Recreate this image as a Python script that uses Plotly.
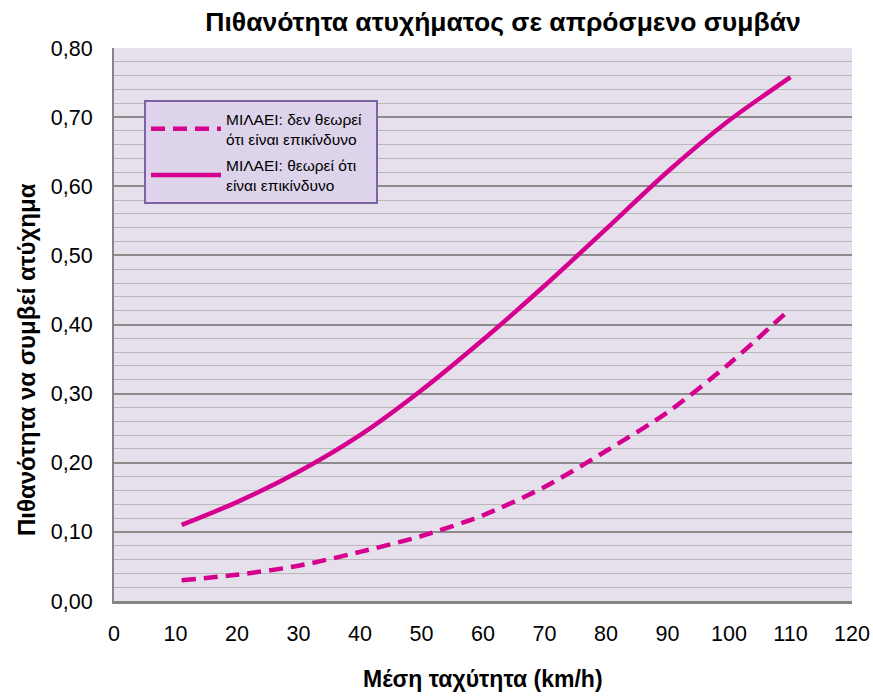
import plotly.graph_objects as go

# Data
speed = [11, 20, 30, 40, 50, 60, 70, 80, 90, 100, 110]
p_not_dangerous = [0.030, 0.038, 0.051, 0.071, 0.094, 0.124, 0.165, 0.217, 0.273, 0.343, 0.423]
p_dangerous = [0.110, 0.143, 0.187, 0.240, 0.305, 0.378, 0.456, 0.538, 0.621, 0.695, 0.758]

name_not = "ΜΙΛΑΕΙ: δεν θεωρεί&nbsp;&nbsp;<br>ότι είναι επικίνδυνο"
name_dang = "ΜΙΛΑΕΙ: θεωρεί ότι&nbsp;&nbsp;<br>είναι επικίνδυνο"

title_text = "Πιθανότητα ατυχήματος σε απρόσμενο συμβάν"
x_title = "Μέση ταχύτητα (km/h)"
y_title = "Πιθανότητα να συμβεί ατύχημα"

x_ticks = [0, 10, 20, 30, 40, 50, 60, 70, 80, 90, 100, 110, 120]
y_ticks = [0.0, 0.1, 0.2, 0.3, 0.4, 0.5, 0.6, 0.7, 0.8]

LINE = "#D6008F"
FONT = "Liberation Sans, Arial, sans-serif"

L, R, T, B = 114, 21, 48, 95
W, H = 873, 696
PW, PH = W - L - R, H - T - B

fig = go.Figure()
fig.add_trace(go.Scatter(
    x=speed, y=p_not_dangerous, mode="lines", name=name_not, legendgroup="a",
    line=dict(color=LINE, width=4.5, dash="14px,8px", shape="spline", smoothing=0.8),
))
fig.add_trace(go.Scatter(
    x=speed, y=p_dangerous, mode="lines", name=name_dang, legendgroup="b",
    line=dict(color=LINE, width=4.5, shape="spline", smoothing=0.8),
))

fig.update_layout(
    width=W, height=H,
    margin=dict(l=L, r=R, t=T, b=B),
    paper_bgcolor="white",
    plot_bgcolor="#E6E0EC",
    separators=",.",
    font=dict(family=FONT, color="#000000"),
    showlegend=True,
    title=dict(
        text="<b>" + title_text + "</b>",
        font=dict(family=FONT, size=26.5, color="#000000"),
        x=(503 - L) / PW, xref="paper", xanchor="center",
        y=1 - 22 / H, yref="container", yanchor="middle",
    ),
    legend=dict(
        x=(144 - L) / PW, y=(H - B - 100) / PH, xanchor="left", yanchor="top",
        bgcolor="#DDD3EA", bordercolor="#7F62A6", borderwidth=2,
        font=dict(family=FONT, size=15.5, color="#000000"),
        itemwidth=70, tracegroupgap=3,
    ),
    annotations=[
        dict(text="<b>" + y_title + "</b>", xref="paper", yref="paper",
             x=(26 - L) / PW, y=(H - B - 360) / PH, textangle=-90,
             showarrow=False, font=dict(family=FONT, size=24, color="#000000"),
             xanchor="center", yanchor="middle"),
        dict(text="<b>" + x_title + "</b>", xref="paper", yref="paper",
             x=(483 - L) / PW, y=(H - B - 679) / PH,
             showarrow=False, font=dict(family=FONT, size=23, color="#000000"),
             xanchor="center", yanchor="middle"),
    ],
)

fig.update_xaxes(
    range=[0, 120], tickvals=x_ticks, ticktext=[str(v) for v in x_ticks],
    showgrid=False, zeroline=False, automargin=False,
    showline=True, linecolor="#868686", linewidth=2.5,
    ticks="", ticklabelstandoff=11,
    tickfont=dict(family=FONT, size=21.5, color="#000000"),
)
fig.update_yaxes(
    range=[0, 0.8], tickvals=y_ticks, tickformat=".2f",
    showgrid=True, gridcolor="#8C8C8C", gridwidth=1.5,
    minor=dict(dtick=0.02, showgrid=True, gridcolor="#B8B8B8", gridwidth=1.3),
    zeroline=False, automargin=False,
    showline=True, linecolor="#868686", linewidth=2,
    ticks="", ticklabelstandoff=15,
    tickfont=dict(family=FONT, size=21.5, color="#000000"),
)

fig.write_html(
    "out.html",
    config={"displayModeBar": False},
    post_script="document.body.style.margin='0';document.body.style.padding='0';",
)
